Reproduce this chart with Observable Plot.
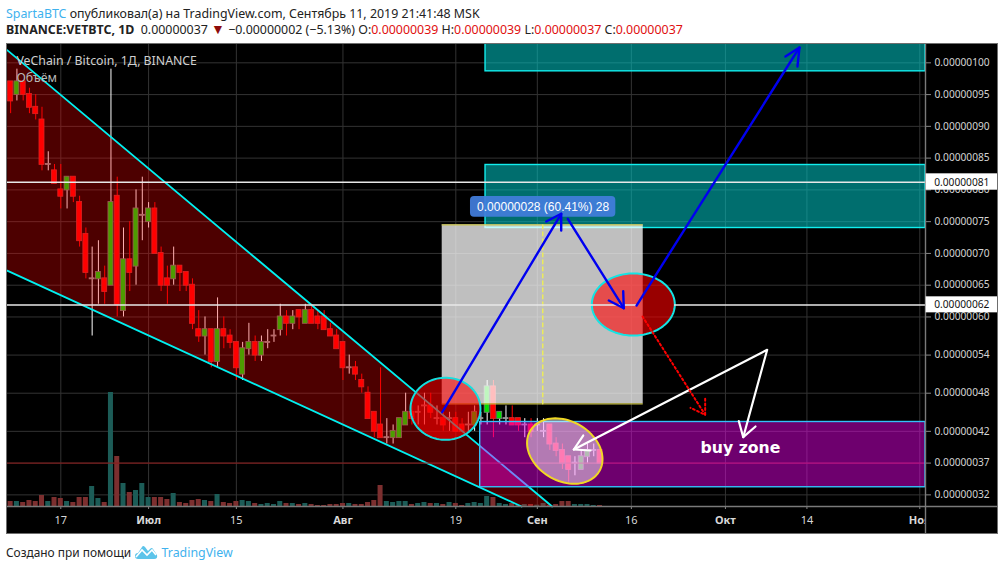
<!DOCTYPE html>
<html lang="ru">
<head>
<meta charset="utf-8">
<script src="https://cdn.jsdelivr.net/npm/d3@7"></script>
<script src="https://cdn.jsdelivr.net/npm/@observablehq/plot@0.6"></script>
<style>
  html, body { margin: 0; padding: 0; background: #fff; width: 1005px; height: 570px; overflow: hidden; font-family: "Noto Sans", sans-serif; }
  .line { position: absolute; left: 6px; white-space: pre; color: #222; font-size: 12.4px; line-height: 18px; }
  .blue { color: #3fb2ee; }
  .red { color: #e01010; }
  .tri { color: #8e0b0b; font-size: 14px; line-height: 12px; }
  #chart { position: absolute; left: 6px; top: 43px; width: 992px; height: 491px; }
  #chart svg { display: block; outline: 1.5px solid #6e6e6e; outline-offset: -1px; }
</style>
</head>
<body>
<div class="line" style="top:5px"><span class="blue">SpartaBTC</span> опубликовал(а) на TradingView.com, Сентябрь 11, 2019 21:41:48 MSK</div>
<div class="line" style="top:21px"><b>BINANCE:VETBTC, 1D</b>  0.00000037 <span class="tri">▼</span> −0.00000002 (−5.13%) O:<span class="red">0.00000039</span> H:<span class="red">0.00000039</span> L:<span class="red">0.00000037</span> C:<span class="red">0.00000037</span></div>
<div id="chart"></div>
<div class="line" style="top:543px;font-size:11.9px">Создано при помощи <svg width="24" height="16" viewBox="0 0 24 16" style="vertical-align:-3px"><path d="M1 12 Q1 9 4 9 L8 3 Q9 1 11 3 L14 7 L16 5 Q18 3 19 5 L23 11 Q24 15 20 15 L4 15 Q1 15 1 12Z" fill="#5cc4ea"/><path d="M2 13 L8 6 L13 11 L18 6 L22 11" fill="none" stroke="#fff" stroke-width="1.6"/></svg><span class="blue" style="font-size:12.4px"> TradingView</span></div>
<script>
// Prices are in units of 0.00000001 BTC; each candle is one day, starting 9 June 2019.
const firstDay = -8;
const opens  = [97,95,97,95,93,91,84,83,80,80,82,78,73,66,66,66,65,79,61,69,68,76,75,77,70,66,66,68,67,65,58,57,58,53,58,57,56,51,55,56,54,56,57,58,60,59,61,59,61,60,60,58,57,56,52,52,50,48,45,43,41,41,41,43,45,45,46,46,44,44,44,44,43,43,43,44,45,49,44,44,44,44,43,43,43,42,43,40,39,38,37,36,38,39,39];
const highs  = [97,99,97,96,95,93,86,84,84,82,82,79,74,71,72,68,99,82,74,75,80,82,78,78,71,68,71,68,67,66,61,60,58,63,60,58,56,56,59,57,57,58,58,62,61,61,61,62,62,61,61,59,58,56,54,53,51,49,45,52,44,43,44,48,46,46,48,48,46,45,45,45,44,45,46,45,50,50,45,46,46,44,44,44,44,44,43,41,40,38,38,39,40,40,39];
const lows   = [92,94,94,92,91,83,83,81,77,77,78,71,66,57,62,62,65,60,60,64,65,72,74,70,64,62,65,64,64,58,56,54,52,52,55,55,50,50,54,53,53,55,56,57,57,58,58,59,59,58,58,57,55,50,51,50,48,44,41,41,40,40,41,43,43,43,43,44,43,42,42,42,42,42,42,43,43,41,43,43,43,42,41,41,42,41,39,38,36,34,35,36,37,38,37];
const closes = [94,97,95,93,92,84,84,81,79,82,79,72,67,66,67,64,78,62,69,67,77,76,77,70,65,65,68,67,65,59,57,58,53,58,57,56,52,55,56,54,56,56,57,60,59,60,60,61,59,59,58,57,55,52,52,51,49,44,42,41,41,42,44,45,44,45,46,45,44,43,44,42,42,43,45,44,49,44,45,44,43,43,43,42,43,42,40,39,37,36,37,38,39,39,37];
const volumes= [15,15,12,18,15,33,15,27,24,15,12,27,27,60,24,12,342,150,69,42,48,69,27,27,27,21,39,12,9,18,21,18,15,36,12,9,15,18,15,9,6,9,6,15,9,9,6,9,6,3,3,6,6,9,9,6,6,12,18,63,15,12,15,15,6,9,12,9,9,6,12,9,3,9,12,9,30,27,9,6,9,3,6,6,4,9,3,6,15,15,6,6,6,3,3];
const volumeUnit = 19.06;

const priceTicks = [100,95,90,85,80,75,70,65,60,54,48,42,37,32];
const dayTicks = ["2019-06-17","2019-07-15","2019-08-19","2019-09-16","2019-10-14"];
const dayLabels = ["17","15","19","16","14"];
const monthTicks = ["2019-07-01","2019-08-01","2019-09-01","2019-10-01","2019-11-01"];
const monthLabels = ["Июл","Авг","Сен","Окт","Ноя"];

// Axis limits
const xLeft = -8.66, xRight = 137.91, xOuter = 149.55;
const yBottom = 30.17, yTop = 103.04, yOuter = 25.78;
const priceTagX = 139.3;

// Drawings, as [day offset from 17 June, price]
const channelFill = [[-8.55,102.0],[78.37,30.17],[73.48,30.17],[-8.55,67.3]];
const channelUpper = [[-8.55,102.0],[78.37,30.17]];
const channelLower = [[-8.55,67.3],[73.48,30.17]];
const tealBoxes = [{x1:67.74,x2:xRight,y1:98.66,y2:yTop+1},{x1:67.74,x2:xRight,y1:74.0,y2:83.92}];
const purpleBox = {x1:66.89,x2:xRight,y1:33.2,y2:43.47};
const grayBox = {x1:60.83,x2:92.89,y1:46.33,y2:74.5};
const measureLine = [[76.87,74.5],[76.87,46.33]];
const measureTag = {x1:65.34,x2:88.52,y1:75.7,y2:78.96};
const lineHigh = [[[xLeft,81.2],[xRight,81.2]]];
const lineLow = [[[xLeft,61.9],[91.8,61.9]],[[97.9,61.9],[xRight,61.9]]];
const priceTags = [{y1:79.95,y2:82.53,label:"0.00000081",y:81.2},{y1:60.65,y2:63.17,label:"0.00000062",y:61.9}];
const lastPrice = 37;
const blueArrows = [
  [[60.83,45.01],[79.81,76.24]],[[77.42,75.02],[79.81,76.24],[79.81,73.61]],
  [[80.86,75.45],[89.79,61.38]],[[87.40,62.59],[89.79,61.38],[89.70,64.05]],
  [[91.82,61.80],[117.81,102.41]],[[115.57,100.99],[117.81,102.41],[117.49,99.42]]
];
const whiteArrows = [
  [[81.82,39.14],[112.66,54.83],[108.84,41.08]],
  [[83.32,41.34],[81.82,39.14],[84.48,38.98]],
  [[108.14,43.60],[108.84,41.08],[110.8,42.76]]
];
const redDotted = [
  [[92.78,60.07],[102.77,44.60]],
  [[102.77,47.12],[102.77,44.60],[100.43,45.70]]
];
const ellipses = [
  {cx:61.35,cy:45.55,a:5.58,b:4.89,tilt:0,fill:"rgba(255,0,0,.6)",stroke:"#14dede"},
  {cx:91.31,cy:61.96,a:6.62,b:4.89,tilt:0,fill:"rgba(255,0,0,.6)",stroke:"#14e4e4"},
  {cx:80.38,cy:38.90,a:6.38,b:4.70,tilt:30,fill:"rgba(255,255,255,.48)",stroke:"#f0d824"}
];

const day = n => new Date(Date.UTC(2019,5,17) + n*864e5);
const px = s => new Date(s + "T00:00:00Z");
const xy = {x: d => day(d[0]), y: d => d[1]};

const candles = opens.map((o,i) => ({
  d: firstDay + i, o, h: highs[i], l: lows[i], c: closes[i], v: volumes[i],
  down: closes[i] < o, flat: closes[i] === o
}));

function outline(e) {
  const t = e.tilt*Math.PI/180, pts = [], ratio = 6.27/6.354;
  for (let k = 0; k < 90; k++) {
    const u = k/90*2*Math.PI, ca = Math.cos(u), sa = Math.sin(u);
    pts.push([e.cx + e.a*ca*Math.cos(t) - e.b/ratio*sa*Math.sin(t),
              e.cy - (e.a*ca*Math.sin(t) + e.b/ratio*sa*Math.cos(t))*ratio]);
  }
  return pts;
}
const boxOpts = {x1: d => day(d.x1), x2: d => day(d.x2), y1: "y1", y2: "y2"};
const grid = "#333333";

const chart = Plot.plot({
  width: 992, height: 491,
  marginLeft: 0, marginRight: 73, marginTop: 0, marginBottom: 28,
  style: {background: "#000", fontFamily: '"Noto Sans", sans-serif', overflow: "hidden"},
  color: {type: "identity"},
  x: {type: "utc", domain: [day(xLeft), day(xRight)], axis: null},
  y: {domain: [yBottom, yTop], axis: null},
  marks: [
    Plot.ruleY(priceTicks, {x1: day(xLeft), x2: day(xRight), stroke: grid}),
    Plot.ruleX([...dayTicks, ...monthTicks].map(px), {y1: yBottom, y2: yTop, stroke: grid}),
    // volume
    Plot.rect(candles, {
      x1: d => day(d.d-0.4), x2: d => day(d.d+0.4),
      y1: yBottom, y2: d => yBottom + d.v/volumeUnit,
      fill: d => d.down ? "#7c2f2f" : "#1c5c57"
    }),
    // candles
    Plot.ruleX(candles, {x: d => day(d.d), y1: "l", y2: "h", strokeWidth: 1,
      stroke: d => d.down ? "#ff0000" : "#ffffff"}),
    Plot.rect(candles, {
      x1: d => day(d.d-0.4), x2: d => day(d.d+0.4),
      y1: d => Math.min(d.o,d.c), y2: d => Math.max(d.o,d.c),
      insetTop: -0.5, insetBottom: -0.5,
      fill: d => d.flat ? "#999" : d.down ? "#ff0000" : "#00e000",
      stroke: d => d.flat ? "#999" : d.down ? "#d03030" : "#7a7a7a",
      strokeWidth: 0.8
    }),
    // channel
    Plot.line(channelFill, {...xy, curve: "linear-closed", fill: "rgba(255,0,0,.3)", stroke: "none"}),
    Plot.line(channelUpper, {...xy, stroke: "#00f0f0", strokeWidth: 1.8}),
    Plot.line(channelLower, {...xy, stroke: "#00f0f0", strokeWidth: 1.8}),
    Plot.ruleY([lastPrice], {x1: day(xLeft), x2: day(xRight), stroke: "#8f1a1a"}),
    // zones
    Plot.rect(tealBoxes, {...boxOpts, fill: "rgba(0,200,200,.55)", stroke: "#12eeee", strokeWidth: 1.4}),
    Plot.rect([grayBox], {...boxOpts, fill: "rgba(255,255,255,.75)"}),
    Plot.ruleY([grayBox.y1, grayBox.y2], {x1: day(grayBox.x1), x2: day(grayBox.x2), stroke: "#c9c24a", strokeWidth: 1.2}),
    Plot.rect([purpleBox], {...boxOpts, fill: "rgba(255,0,255,.43)", stroke: "#34c0f8", strokeWidth: 1.4}),
    Plot.line(measureLine, {...xy, stroke: "#eeee55", strokeWidth: 1.4, strokeDasharray: "4 3"}),
    // ellipses
    ...ellipses.map(e => Plot.line(outline(e), {...xy, curve: "linear-closed", fill: e.fill, stroke: e.stroke, strokeWidth: 2})),
    // horizontal levels
    ...[...lineHigh, ...lineLow].map(s => Plot.line(s, {...xy, stroke: "#e8e8e8", strokeWidth: 1.5})),
    // measure tag
    Plot.rect([measureTag], {...boxOpts, fill: "rgba(66,125,220,.93)", rx: 4}),
    Plot.text(["0.00000028 (60.41%) 28"], {x: day((measureTag.x1+measureTag.x2)/2), y: (measureTag.y1+measureTag.y2)/2,
      fill: "#fff", fontSize: 12, fontFamily: '"Liberation Sans", sans-serif'}),
    // arrows
    ...blueArrows.map(s => Plot.line(s, {...xy, stroke: "#0000f0", strokeWidth: 2.4})),
    ...whiteArrows.map(s => Plot.line(s, {...xy, stroke: "#ffffff", strokeWidth: 2.2})),
    ...redDotted.map(s => Plot.line(s, {...xy, stroke: "#ff0000", strokeWidth: 2, strokeDasharray: "2 2.6"})),
    // text on the chart
    Plot.text(["VeChain / Bitcoin, 1Д, BINANCE"], {x: day(-7.07), y: 100.28, textAnchor: "start", fill: "#d0d0d0", fontSize: 12.3}),
    Plot.text(["Объём"], {x: day(-7.07), y: 97.6, textAnchor: "start", fill: "#b8b8b8", fontSize: 12.3}),
    Plot.text(["buy zone"], {x: day(108.4), y: 39.45, fill: "#fff", fontSize: 15.7, fontWeight: "bold", fontFamily: '"DejaVu Sans", sans-serif'}),
    // axes
    Plot.axisX(dayTicks.map(px), {anchor: "bottom", tickSize: 3, tickPadding: 7, fontSize: 11, color: "#d8d8d8", stroke: "#888", label: null,
      tickFormat: d => dayLabels[dayTicks.indexOf(d3.utcFormat("%Y-%m-%d")(d))]}),
    Plot.axisX(monthTicks.map(px), {anchor: "bottom", tickSize: 3, tickPadding: 7, fontSize: 11, fontWeight: "bold", color: "#d8d8d8", stroke: "#888", label: null,
      tickFormat: d => monthLabels[monthTicks.indexOf(d3.utcFormat("%Y-%m-%d")(d))]}),
    Plot.rect([{x1: xRight, x2: xOuter, y1: yOuter, y2: yBottom}], {...boxOpts, fill: "#000"}),
    Plot.axisY(priceTicks, {anchor: "right", tickSize: 5, tickPadding: 4, fontSize: 10.2, color: "#d4d4d4", stroke: "#888", label: null,
      tickFormat: d => "0." + String(d).padStart(8, "0")}),
    Plot.ruleX([day(xRight)], {y1: yOuter, y2: yTop, stroke: "#7a7a7a", strokeWidth: 1.4}),
    Plot.ruleY([yBottom], {x1: day(xLeft), x2: day(xOuter), stroke: "#7a7a7a", strokeWidth: 1.4}),
    // price tags on the axis
    Plot.rect(priceTags, {x1: day(xRight+0.1), x2: day(xOuter), y1: "y1", y2: "y2", fill: "#fff"}),
    Plot.text(priceTags, {x: day(priceTagX), y: "y", text: "label", textAnchor: "start", fill: "#111", fontSize: 10.2})
  ]
});
document.getElementById("chart").append(chart);
</script>
</body>
</html>
